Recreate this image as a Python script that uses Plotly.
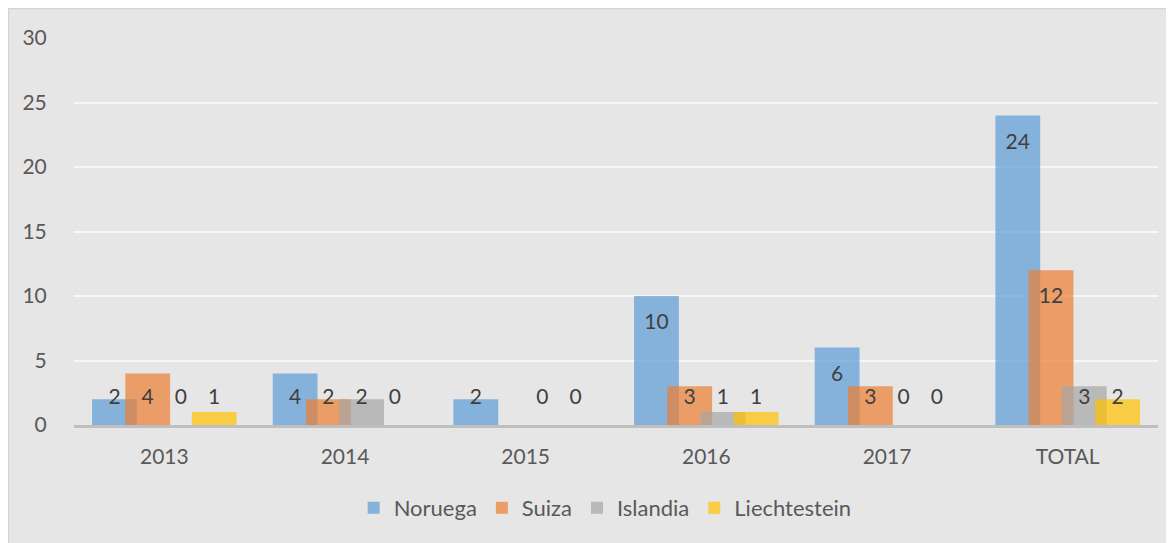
import plotly.graph_objects as go

categories = ["2013", "2014", "2015", "2016", "2017", "TOTAL"]
series_names = ["Noruega", "Suiza", "Islandia", "Liechtestein"]
noruega = [2, 4, 2, 10, 6, 24]
suiza = [4, 2, None, 3, 3, 12]
islandia = [0, 2, 0, 1, 0, 3]
liechtestein = [1, 0, 0, 1, 0, 2]
series_values = [noruega, suiza, islandia, liechtestein]
colors = ["rgba(91,155,213,0.7)", "rgba(237,125,49,0.7)",
          "rgba(165,165,165,0.7)", "rgba(255,192,0,0.7)"]

W, H = 1166, 535
ML, MR, MT, MB = 66, 16, 30, 118
plot_w = W - ML - MR
plot_h = H - MT - MB
ymax = 30
px_per_unit = plot_h / ymax

bar_w = 0.248
offsets = [-0.4, -0.216, -0.032, 0.152]
label_drop = 28 / px_per_unit
label_min = 2.0
FONT = "Lato, sans-serif"
FS = 21

xs = list(range(len(categories)))
fig = go.Figure()
for name, vals, col, off in zip(series_names, series_values, colors, offsets):
    fig.add_trace(go.Bar(
        x=xs, y=vals, name=name, offset=off, width=bar_w,
        marker=dict(color=col, line=dict(width=0)),
        hoverinfo="skip",
    ))
for name, vals, off in zip(series_names, series_values, offsets):
    fig.add_trace(go.Scatter(
        x=[i + off + bar_w / 2 for i, v in zip(xs, vals) if v is not None],
        y=[max(v - label_drop, label_min) for v in vals if v is not None],
        text=[str(v) for v in vals if v is not None],
        mode="text", textposition="middle center",
        textfont=dict(family=FONT, size=FS, color="#404040"),
        showlegend=False, hoverinfo="skip", cliponaxis=False,
    ))

# thin chart-area border (left/top visible in frame)
fig.add_shape(type="rect", xref="paper", yref="paper", layer="below",
              x0=-ML / plot_w + 0.0005, x1=(W - ML) / plot_w + 0.01,
              y0=-MB / plot_h - 0.01, y1=(plot_h + MT) / plot_h - 0.001,
              fillcolor="rgba(0,0,0,0)", line=dict(color="#D4D4D4", width=1.5))

fig.update_layout(
    width=W, height=H,
    margin=dict(l=ML, r=MR, t=MT, b=MB),
    paper_bgcolor="#E7E6E6", plot_bgcolor="rgba(0,0,0,0)",
    barmode="overlay",
    font=dict(family=FONT, color="#595959", size=FS),
    showlegend=True,
    legend=dict(orientation="h", x=0.49, xanchor="center",
                y=(-(500 - (H - MB)) / plot_h), yanchor="middle",
                font=dict(size=22, color="#595959"),
                bgcolor="rgba(0,0,0,0)", itemwidth=30,
                traceorder="normal"),
    xaxis=dict(range=[-0.5, len(categories) - 0.5], tickvals=xs,
               ticktext=categories, showgrid=False, zeroline=False,
               showline=True, linecolor="#BFBFBF", linewidth=3,
               ticks="outside", ticklen=11, tickcolor="rgba(0,0,0,0)",
               tickfont=dict(size=FS, color="#595959")),
    yaxis=dict(range=[0, ymax], dtick=5, showgrid=True,
               gridcolor="#F7F7F7", gridwidth=1.5, zeroline=False,
               showline=False, ticks="outside", ticklen=22,
               tickcolor="rgba(0,0,0,0)",
               tickfont=dict(size=FS, color="#595959")),
)

fig.write_html("out.html")
